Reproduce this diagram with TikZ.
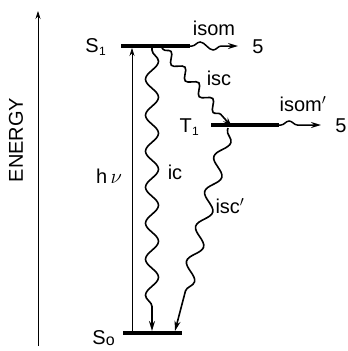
\documentclass[tikz,border=0pt]{standalone}
\usepackage{fontspec}
\setmainfont{Liberation Sans}
\usetikzlibrary{decorations.pathmorphing,arrows.meta}
\begin{document}
\begin{tikzpicture}[x=1pt,y=-1pt,
  level/.style={line width=3.8pt},
  thin arrow/.style={line width=0.6pt,-{Stealth[length=8pt,width=5pt]}},
  wave/.style={line width=1.6pt,decorate,decoration={snake,segment length=36pt,amplitude=6.5pt,pre length=2pt,post length=22pt},-{Stealth[length=10pt,width=6pt]}},
  swave/.style={line width=1.5pt,decorate,decoration={snake,segment length=26pt,amplitude=4pt,pre length=2pt,post length=12pt},-{Stealth[length=10pt,width=6pt]}},
  lbl/.style={font=\fontsize{20}{22}\selectfont,inner sep=1pt}]
\useasboundingbox (0,0) rectangle (348,351);
% energy axis
\coordinate (e0) at (38,346);
\coordinate (e1) at (38,11);
\draw[thin arrow] (e0) -- (e1);
\node[lbl,rotate=90] (energy) at (16,140) {ENERGY};
% levels
\coordinate (s1a) at (121,46); \coordinate (s1b) at (190,46);
\coordinate (t1a) at (211,125); \coordinate (t1b) at (279,125);
\coordinate (s0a) at (123,333); \coordinate (s0b) at (182,333);
\draw[level] (s1a) -- (s1b);
\draw[level] (t1a) -- (t1b);
\draw[level] (s0a) -- (s0b);
\node[lbl,anchor=east] (S1) at (107,47) {S\kern0.3pt\raisebox{-3pt}{\fontsize{12}{12}\selectfont 1}};
\node[lbl,anchor=east] (T1) at (200,127) {T\kern0.3pt\raisebox{-3pt}{\fontsize{12}{12}\selectfont 1}};
\node[lbl,anchor=east] (S0) at (116,338) {S\kern0.3pt\raisebox{-1pt}{\fontsize{16}{12}\selectfont o}};
% h nu
\coordinate (hv0) at (132,333);
\coordinate (hv1) at (132,48);
\draw[thin arrow] (hv0) -- (hv1);
\node[lbl] (hnu) at (109,176) {h\,$\nu$};
% ic
\coordinate (ic0) at (152,48);
\coordinate (ic1) at (152,331);
\draw[wave] (ic0) -- (ic1);
\node[lbl] (icl) at (175,172) {ic};
% isc
\coordinate (isc0) at (162,48);
\coordinate (isc1) at (232,127);
\draw[wave,decoration={post length=10pt,segment length=21pt,amplitude=4.5pt}] (isc0) -- (isc1);
\node[lbl] (iscl) at (219,78) {isc};
% isc'
\coordinate (iscp0) at (228,128);
\coordinate (iscp1) at (175,331);
\draw[wave,decoration={post length=32pt,segment length=36pt,amplitude=6.5pt}] (iscp0) -- (iscp1);
\node[lbl] (iscpl) at (230,206) {isc$'$};
% isom
\coordinate (isom0) at (190,46);
\coordinate (isom1) at (238,46);
\draw[swave] (isom0) -- (isom1);
\node[lbl] (isoml) at (214,28) {isom};
\node[lbl] (five1) at (258,47) {5};
% isom'
\coordinate (isomp0) at (279,125);
\coordinate (isomp1) at (321,125);
\draw[swave] (isomp0) -- (isomp1);
\node[lbl] (isompl) at (303,104) {isom$'$};
\node[lbl] (five2) at (341,126) {5};
\end{tikzpicture}
\end{document}
